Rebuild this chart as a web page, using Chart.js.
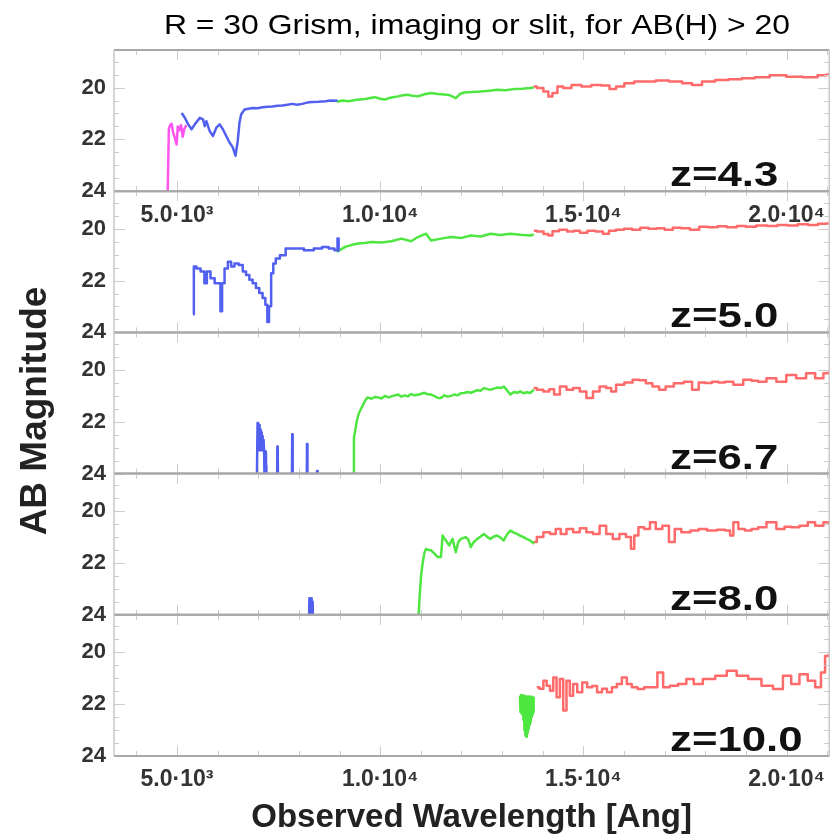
<!DOCTYPE html>
<html>
<head>
<meta charset="utf-8">
<title>R = 30 Grism spectra</title>
<script src="https://cdn.jsdelivr.net/npm/chart.js@4.4.1/dist/chart.umd.min.js"></script>
<style>
  html, body { margin: 0; padding: 0; background: #fff; }
  #wrap { width: 835px; height: 838px; }
</style>
</head>
<body>
<div id="wrap"><canvas id="spectra" width="835" height="838"></canvas></div>
<script>
// panel labels, axis ranges and tick values
const redshifts = ["z=4.3", "z=5.0", "z=6.7", "z=8.0", "z=10.0"];
const waveMin = 3450;
const waveMax = 21050;
const magTop = 18.55;
const magBottom = 24.0;
const xTicks = [5000, 10000, 15000, 20000];
const yTicks = [20, 22, 24];

// spectra as [wavelength (Ang), AB mag]; 25 = fainter than the plotted range
const z43Magenta = [[4770,24.1],[4800,21.6],[4830,21.45],[4870,21.4],[4900,21.7],[4950,21.95],[4990,22.2],[5020,21.5],[5060,21.65],[5100,21.45],[5140,21.9],[5180,21.6],[5230,21.45]];
const z43Blue = [[5115,20.98],[5195,21.17],[5276,21.42],[5358,21.61],[5439,21.42],[5561,21.17],[5641,21.23],[5683,21.49],[5724,21.3],[5805,21.68],[5885,21.87],[5968,21.55],[6049,21.42],[6129,21.61],[6212,21.87],[6293,22.12],[6373,22.31],[6439,22.63],[6495,22.06],[6537,21.36],[6578,21.04],[6659,20.85],[6760,20.82],[6861,20.79],[6980,20.8],[7105,20.76],[7230,20.74],[7349,20.73],[7470,20.7],[7593,20.69],[7720,20.66],[7837,20.63],[7960,20.66],[8080,20.63],[8200,20.58],[8324,20.56],[8480,20.55],[8651,20.53],[8780,20.5],[8895,20.51],[8950,20.5]];
const z43Green = [[8930,20.55],[9080,20.5],[9220,20.53],[9420,20.47],[9630,20.44],[9750,20.4],[9870,20.37],[10000,20.43],[10115,20.46],[10280,20.38],[10440,20.34],[10560,20.3],[10680,20.28],[10800,20.32],[10930,20.34],[11090,20.26],[11250,20.21],[11420,20.25],[11580,20.27],[11720,20.3],[11860,20.41],[11960,20.25],[12070,20.19],[12270,20.17],[12470,20.15],[12680,20.12],[12880,20.08],[13080,20.1],[13290,20.06],[13490,20.05],[13690,20.02],[13780,20.0]];
const z43Red = [[13773,19.96],[13934,20.02],[14097,20.15],[14178,20.34],[14300,20.21],[14422,19.96],[14585,20.02],[14829,19.9],[15073,19.96],[15317,19.9],[15561,19.92],[15724,20.06],[15886,19.96],[16130,19.83],[16373,19.77],[16617,19.77],[16943,19.73],[17268,19.77],[17593,19.83],[17756,19.9],[18081,19.77],[18407,19.71],[18731,19.68],[19056,19.64],[19383,19.6],[19788,19.52],[20195,19.58],[20602,19.6],[20926,19.52],[21050,19.5]];

const z50Blue = [[5395,23.3],[5435,21.46],[5520,21.53],[5641,21.65],[5707,22.1],[5763,21.65],[5885,21.91],[5968,22.1],[6049,22.1],[6090,23.18],[6129,22.1],[6212,21.53],[6293,21.27],[6373,21.46],[6456,21.34],[6578,21.4],[6659,21.65],[6739,21.78],[6822,21.97],[6902,22.1],[6983,22.29],[7066,22.48],[7146,22.67],[7202,22.93],[7244,23.6],[7285,22.99],[7349,21.72],[7390,21.34],[7471,21.15],[7593,21.02],[7756,20.76],[8000,20.76],[8244,20.83],[8488,20.76],[8651,20.7],[8813,20.76],[8934,20.83],[8965,20.38],[8990,20.85]];
const z50Green = [[8934,20.89],[9139,20.7],[9300,20.62],[9463,20.57],[9620,20.55],[9788,20.51],[10032,20.53],[10276,20.48],[10520,20.38],[10763,20.48],[10927,20.32],[11129,20.19],[11251,20.45],[11495,20.38],[11739,20.32],[11983,20.36],[12227,20.26],[12471,20.3],[12715,20.19],[12958,20.24],[13202,20.19],[13446,20.23],[13690,20.26],[13780,20.22]];
const z50Red = [[13780,20.08],[13940,20.11],[14100,20.2],[14180,20.26],[14300,20.1],[14500,20.04],[14700,20.11],[14830,20.08],[15000,20.15],[15200,20.08],[15400,20.11],[15560,20.19],[15700,20.08],[15900,20.04],[16100,20.0],[16300,20.04],[16500,19.96],[16700,20.0],[16900,19.98],[17100,20.04],[17300,19.96],[17500,19.98],[17750,20.04],[17950,19.92],[18200,19.94],[18400,19.9],[18650,19.94],[18900,19.89],[19100,19.92],[19400,19.87],[19650,19.89],[19900,19.85],[20150,19.87],[20400,19.83],[20650,19.85],[20900,19.81],[21050,19.8]];

const z67Blue = [[6960,25],[6982,22.05],[6988,23.05],[6994,22.08],[7000,23.1],[7006,22.1],[7012,23.0],[7018,22.12],[7024,23.1],[7030,22.15],[7036,23.05],[7042,22.2],[7048,23.1],[7054,22.3],[7060,23.0],[7066,22.35],[7072,23.1],[7078,22.4],[7084,23.05],[7090,22.45],[7096,23.1],[7102,22.55],[7108,23.0],[7114,22.6],[7120,23.1],[7126,22.7],[7132,23.05],[7138,22.75],[7144,23.13],[7160,25],[7180,25],[7188,23.15],[7192,23.7],[7200,25],[7460,25],[7470,22.95],[7478,23.1],[7490,25],[7825,25],[7835,22.48],[7842,23.25],[7852,25],[8190,25],[8200,22.86],[8206,23.95],[8215,25],[8435,25],[8446,23.9],[8460,25]];
const z67Green = [[9340,24.5],[9354,22.61],[9383,22.36],[9422,21.98],[9480,21.65],[9561,21.4],[9641,21.15],[9690,21.06],[9788,21.11],[9870,21.04],[9951,21.06],[10030,21.1],[10115,21.0],[10200,21.06],[10276,21.02],[10360,20.98],[10439,20.95],[10520,21.03],[10602,20.98],[10680,21.02],[10763,20.93],[10840,20.98],[10927,20.96],[11010,20.92],[11090,20.88],[11170,20.94],[11251,20.95],[11330,21.0],[11415,21.08],[11495,21.08],[11580,20.98],[11660,21.03],[11739,21.0],[11820,20.95],[11900,20.98],[11983,20.9],[12066,20.89],[12150,20.85],[12230,20.88],[12310,20.83],[12390,20.78],[12470,20.8],[12554,20.7],[12640,20.74],[12720,20.76],[12798,20.72],[12880,20.68],[12960,20.7],[13041,20.64],[13120,20.78],[13202,20.95],[13290,20.85],[13370,20.88],[13446,20.83],[13530,20.9],[13610,20.86],[13690,20.89],[13780,20.76]];
const z67Red = [[13773,20.7],[13934,20.76],[14097,20.83],[14219,20.74],[14341,20.95],[14503,20.64],[14666,20.76],[14829,20.7],[14992,20.83],[15154,21.08],[15317,20.83],[15480,20.64],[15642,20.7],[15724,20.83],[15886,20.57],[16130,20.48],[16293,20.38],[16455,20.4],[16617,20.51],[16780,20.64],[16943,20.76],[17105,20.64],[17349,20.51],[17593,20.45],[17756,20.76],[17919,20.48],[18080,20.5],[18244,20.45],[18400,20.48],[18569,20.45],[18812,20.57],[19056,20.38],[19220,20.42],[19383,20.45],[19627,20.32],[19871,20.45],[20115,20.19],[20358,20.32],[20602,20.13],[20805,20.32],[21008,20.13],[21050,20.1]];

const z80Blue = [[8240,25],[8258,23.36],[8266,25],[8274,23.38],[8282,25],[8290,23.4],[8298,25],[8306,23.36],[8314,25],[8322,23.4],[8330,25],[8338,23.5],[8355,25]];
const z80Green = [[10935,24.3],[10968,23.36],[11007,22.47],[11049,21.96],[11090,21.6],[11129,21.45],[11190,21.5],[11251,21.51],[11334,21.64],[11415,21.77],[11495,21.77],[11537,20.94],[11580,21.05],[11617,21.13],[11698,21.32],[11780,21.07],[11861,21.58],[11920,21.2],[11983,21.07],[12105,21.0],[12170,21.1],[12227,21.39],[12300,21.2],[12390,21.07],[12470,20.98],[12554,20.88],[12640,21.0],[12715,21.07],[12800,20.98],[12878,20.94],[12960,21.02],[13041,21.13],[13120,20.9],[13202,20.75],[13280,20.82],[13366,20.88],[13450,20.95],[13527,21.0],[13610,21.08],[13690,21.13],[13790,21.26]];
const z80Red = [[13773,21.19],[13934,21.0],[14097,20.81],[14259,20.88],[14381,20.69],[14503,20.88],[14666,20.69],[14829,20.81],[14992,20.66],[15154,20.81],[15317,20.88],[15480,20.56],[15642,20.88],[15805,21.07],[15968,20.88],[16130,21.0],[16211,21.45],[16293,20.94],[16415,20.62],[16578,20.69],[16699,20.43],[16862,20.69],[17024,20.56],[17187,21.19],[17309,20.69],[17512,20.81],[17756,20.75],[17919,20.69],[18163,20.75],[18407,20.72],[18569,20.75],[18650,20.94],[18731,20.43],[18894,20.69],[19056,20.75],[19220,20.69],[19383,20.62],[19627,20.43],[19871,20.69],[20032,20.6],[20195,20.62],[20439,20.56],[20602,20.43],[20805,20.56],[21008,20.43],[21050,20.45]];

const z100Green = [[13440,21.67],[13452,22.3],[13464,21.65],[13476,22.35],[13488,21.7],[13500,22.4],[13512,21.66],[13524,22.6],[13536,21.7],[13548,23.0],[13560,21.68],[13572,23.2],[13584,21.7],[13596,23.26],[13608,21.7],[13620,23.1],[13632,21.72],[13644,22.95],[13656,21.7],[13668,22.8],[13680,21.72],[13692,22.7],[13704,21.7],[13716,22.5],[13728,21.75],[13740,22.4],[13752,21.72],[13764,22.3],[13776,21.75],[13790,21.8]];
const z100Red = [[13853,21.35],[13975,21.4],[14056,21.1],[14138,21.29],[14219,21.48],[14300,20.97],[14381,21.73],[14463,21.03],[14544,22.24],[14625,21.1],[14707,21.67],[14788,21.22],[14910,21.54],[15032,21.16],[15154,21.35],[15276,21.3],[15398,21.54],[15520,21.4],[15642,21.54],[15763,21.35],[15886,21.22],[16008,20.97],[16130,21.22],[16251,21.35],[16415,21.41],[16578,21.35],[16740,21.35],[16902,20.78],[17024,21.35],[17227,21.29],[17431,21.22],[17634,21.03],[17797,21.22],[18081,21.03],[18407,20.9],[18650,20.71],[18894,20.9],[19220,21.03],[19544,21.29],[19788,21.41],[20032,20.9],[20195,21.22],[20439,20.84],[20602,21.1],[20805,21.35],[20886,20.78],[21008,20.14],[21050,20.1]];

const colors = {
    magenta: "#ff55f0",
    blue: "#5260f0",
    green: "#4ee640",
    red: "#ff6b6b"
};

// one entry per panel, top to bottom: [points, colour, stepped]
const panels = [
    { axis: "y1", series: [[z43Magenta, "magenta", false], [z43Blue, "blue", false], [z43Green, "green", false], [z43Red, "red", "middle"]] },
    { axis: "y2", series: [[z50Blue, "blue", "middle"], [z50Green, "green", false], [z50Red, "red", "middle"]] },
    { axis: "y3", series: [[z67Blue, "blue", false], [z67Green, "green", false], [z67Red, "red", "middle"]] },
    { axis: "y4", series: [[z80Blue, "blue", false], [z80Green, "green", false], [z80Red, "red", "middle"]] },
    { axis: "y5", series: [[z100Green, "green", false], [z100Red, "red", "middle"]] }
];

const FONT = '"Liberation Sans", Arial, Helvetica, sans-serif';
const superDigits = ["\u2070", "\u00b9", "\u00b2", "\u00b3", "\u2074", "\u2075", "\u2076", "\u2077", "\u2078", "\u2079"];

function sciLabel(v) {
    let exp = Math.floor(Math.log10(v));
    let mant = v / Math.pow(10, exp);
    return mant.toFixed(1) + "\u00b7" + "10" + superDigits[exp];
}

function buildDatasets() {
    let datasets = [];
    panels.forEach(function(panel) {
        panel.series.forEach(function(s) {
            datasets.push({
                data: s[0].map(function(p) { return { x: p[0], y: p[1] }; }),
                xAxisID: "x",
                yAxisID: panel.axis,
                borderColor: colors[s[1]],
                borderWidth: 2.5,
                borderJoinStyle: "round",
                pointRadius: 0,
                stepped: s[2],
                tension: 0,
                fill: false,
                clip: 0
            });
        });
    });
    return datasets;
}

function buildScales() {
    let scales = {
        x: {
            type: "linear",
            position: "bottom",
            min: waveMin,
            max: waveMax,
            afterBuildTicks: function(scale) { scale.ticks = xTicks.map(function(v) { return { value: v }; }); },
            afterFit: function(scale) { scale.height = 82; },
            grid: { display: false, drawTicks: false },
            border: { display: false },
            ticks: {
                autoSkip: false,
                maxRotation: 0,
                padding: 10,
                color: "#333",
                font: { family: FONT, size: 23, weight: "bold" },
                callback: function(v) { return sciLabel(v); }
            },
            title: {
                display: true,
                text: "Observed Wavelength [Ang]",
                color: "#222",
                font: { family: FONT, size: 33, weight: "bold" },
                padding: { top: 0, bottom: 0 }
            }
        }
    };
    panels.forEach(function(panel, i) {
        scales[panel.axis] = {
            type: "linear",
            position: "left",
            stack: "panels",
            stackWeight: 1,
            weight: panels.length - i,
            reverse: true,
            min: magTop,
            max: magBottom,
            afterBuildTicks: function(scale) { scale.ticks = yTicks.map(function(v) { return { value: v }; }); },
            afterFit: function(scale) { scale.width = 114; },
            grid: { display: false, drawTicks: false },
            border: { display: false },
            ticks: {
                autoSkip: false,
                padding: 8,
                color: "#333",
                font: { family: FONT, size: 22, weight: "bold" }
            }
        };
    });
    return scales;
}

function line(ctx, x1, y1, x2, y2) {
    ctx.beginPath();
    ctx.moveTo(x1, y1);
    ctx.lineTo(x2, y2);
    ctx.stroke();
}

function wideText(ctx, text, x, y, sx) {
    ctx.save();
    ctx.translate(x, y);
    ctx.scale(sx, 1);
    ctx.fillText(text, 0, 0);
    ctx.restore();
}

// frames, inward ticks, redshift labels and the wavelength labels under the top panel
const panelFrame = {
    id: "panelFrame",
    afterDatasetsDraw: function(chart) {
        let ctx = chart.ctx;
        let xs = chart.scales.x;
        ctx.save();
        panels.forEach(function(panel, i) {
            let ys = chart.scales[panel.axis];
            let top = ys.top, bottom = ys.bottom, left = xs.left, right = xs.right;

            ctx.strokeStyle = "#cccccc";
            ctx.lineWidth = 1;
            for (let m = 19; m <= 24; m += 0.5) {
                let y = Math.round(ys.getPixelForValue(m)) + 0.5;
                let len = (m % 2 === 0) ? 11 : 5;
                line(ctx, left, y, left + len, y);
                line(ctx, right, y, right - len, y);
            }
            for (let w = 4000; w <= 21000; w += 1000) {
                let x = Math.round(xs.getPixelForValue(w)) + 0.5;
                let len = (w % 5000 === 0) ? 10 : 5;
                line(ctx, x, bottom, x, bottom - len);
                line(ctx, x, top, x, top + len);
            }

            ctx.strokeStyle = "#a8a8a8";
            ctx.lineWidth = 2;
            line(ctx, left, top, right, top);
            line(ctx, left, bottom, right, bottom);
            ctx.strokeStyle = "#c8c8c8";
            ctx.lineWidth = 1.5;
            line(ctx, left, top, left, bottom);
            line(ctx, right, top, right, bottom);

            ctx.fillStyle = "#111";
            ctx.font = "bold 35px " + FONT;
            ctx.textAlign = "left";
            ctx.textBaseline = "alphabetic";
            wideText(ctx, redshifts[i], 670, bottom - 5, 1.25);
        });

        let firstPanel = chart.scales[panels[0].axis];
        ctx.fillStyle = "#333";
        ctx.font = "bold 23px " + FONT;
        ctx.textAlign = "center";
        ctx.textBaseline = "middle";
        xs.ticks.forEach(function(t) {
            ctx.fillText(sciLabel(t.value), xs.getPixelForValue(t.value), firstPanel.bottom + 24);
        });
        ctx.restore();
    },
    afterDraw: function(chart) {
        let ctx = chart.ctx;
        ctx.save();
        ctx.fillStyle = "#000";
        ctx.font = "28px " + FONT;
        ctx.textAlign = "center";
        ctx.textBaseline = "alphabetic";
        wideText(ctx, "R = 30 Grism, imaging or slit, for AB(H) > 20", 477, 34, 1.14);

        ctx.fillStyle = "#222";
        ctx.font = "bold 37px " + FONT;
        ctx.translate(46, 411);
        ctx.rotate(-Math.PI / 2);
        ctx.fillText("AB Magnitude", 0, 0);
        ctx.restore();
    }
};

const spectraChart = new Chart(document.getElementById("spectra").getContext("2d"), {
    type: "line",
    data: { datasets: buildDatasets() },
    options: {
        responsive: false,
        animation: false,
        devicePixelRatio: 1,
        layout: { padding: { top: 50, right: 2, bottom: 0, left: 0 } },
        plugins: { legend: { display: false }, tooltip: { enabled: false } },
        scales: buildScales()
    },
    plugins: [panelFrame]
});
</script>
</body>
</html>
